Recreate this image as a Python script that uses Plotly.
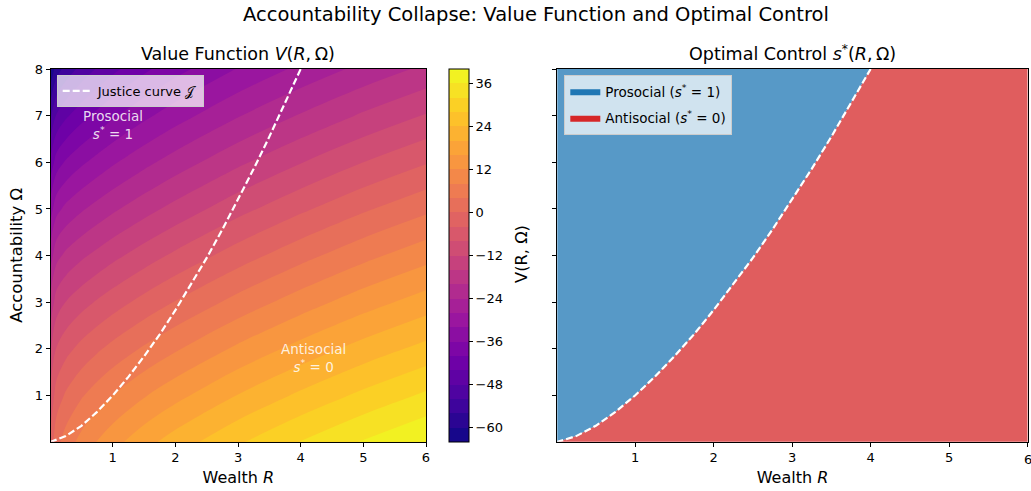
import plotly.graph_objects as go

# ---------------- data ----------------
R_GRID = [0.0, 0.1, 0.25, 0.5, 0.75, 1.0, 1.5, 2.0, 3.0, 4.0, 5.0, 6.0]
OMEGA_GRID = [0, 1, 2, 3, 4, 5, 6, 7, 8]
# value function V(R, Omega): one row per Omega, one column per R (estimated from the colours)
V_ROW_OM0 = [-3.0, 2.6, 5.8, 9.4, 12.2, 14.6, 18.6, 21.9, 27.5, 32.2, 36.4, 40.1]
V_ROW_OM1 = [-7.45, -2.2, 0.56, 3.58, 5.95, 8.05, 11.65, 14.74, 20.17, 24.82, 29.0, 32.7]
V_ROW_OM2 = [-12.8, -7.79, -5.34, -2.72, -0.64, 1.24, 4.56, 7.51, 12.82, 17.43, 21.6, 25.3]
V_ROW_OM3 = [-19.05, -14.17, -11.89, -9.51, -7.59, -5.82, -2.66, 0.21, 5.44, 10.03, 14.2, 17.9]
V_ROW_OM4 = [-26.2, -21.35, -19.1, -16.78, -14.9, -13.14, -10.02, -7.17, -1.96, 2.63, 6.8, 10.5]
V_ROW_OM5 = [-34.25, -29.33, -26.98, -24.53, -22.55, -20.73, -17.53, -14.63, -9.38, -4.78, -0.6, 3.1]
V_ROW_OM6 = [-43.2, -38.09, -35.5, -32.76, -30.56, -28.56, -25.16, -22.15, -16.82, -12.19, -8.0, -4.3]
V_ROW_OM7 = [-53.05, -47.65, -44.69, -41.47, -38.91, -36.66, -32.94, -29.75, -24.28, -19.61, -15.4, -11.7]
V_ROW_OM8 = [-63.8, -58.01, -54.54, -50.66, -47.62, -45.02, -40.86, -37.43, -31.76, -27.03, -22.8, -19.1]

JUSTICE_R = [0.0, 0.25, 0.5, 0.75, 1.0, 1.25, 1.5, 1.75, 2.0, 2.25, 2.5, 2.75, 3.0, 3.25, 3.5, 3.75, 4.0]
JUSTICE_OMEGA = [0.0, 0.13, 0.35, 0.65, 1.0, 1.4, 1.84, 2.31, 2.83, 3.38, 3.95, 4.56, 5.2, 5.86, 6.55, 7.26, 8.0]

X_TICKS = [1, 2, 3, 4, 5, 6]
Y_TICKS = [1, 2, 3, 4, 5, 6, 7, 8]
CBAR_TICKS = [-60, -48, -36, -24, -12, 0, 12, 24, 36]
LEVEL_START, LEVEL_END, LEVEL_STEP = -64, 40, 4

R_MIN, R_MAX = 0.0, 6.0
OM_MIN, OM_MAX = 0.0, 8.0
R_RANGE = [0.01, 6.0]
OM_RANGE = [0.01, 8.0]

# ---------------- layout geometry ----------------
W, H = 1031, 491
FONT = "DejaVu Sans"
def fx(px):
    return px / W
def fy(py):
    return 1 - py / H

Z = [V_ROW_OM0, V_ROW_OM1, V_ROW_OM2, V_ROW_OM3, V_ROW_OM4,
     V_ROW_OM5, V_ROW_OM6, V_ROW_OM7, V_ROW_OM8]

BLUE_FILL = "rgba(31,119,180,0.75)"
RED_FILL = "rgba(214,39,40,0.75)"

fig = go.Figure()

fig.add_trace(go.Contour(
    x=R_GRID, y=OMEGA_GRID, z=Z,
    colorscale="Plasma", zmin=LEVEL_START, zmax=LEVEL_END, zauto=False,
    autocontour=False,
    contours=dict(start=LEVEL_START, end=LEVEL_END, size=LEVEL_STEP, coloring="fill", showlines=False),
    line=dict(width=0, smoothing=1.0),
    colorbar=dict(
        x=fx(449), xanchor="left", y=fy(441.7), yanchor="bottom", xpad=0, ypad=0,
        len=(441.7 - 69) / H, lenmode="fraction", thickness=20, thicknessmode="pixels",
        outlinewidth=1, outlinecolor="black",
        tickvals=CBAR_TICKS, ticks="outside", ticklen=4, tickcolor="black",
        tickfont=dict(family=FONT, size=13, color="black"),
    ),
    showlegend=False, xaxis="x", yaxis="y", hoverinfo="skip",
))

fig.add_trace(go.Scatter(
    x=JUSTICE_R, y=JUSTICE_OMEGA, mode="lines",
    line=dict(color="white", width=2.2, dash="7px,3px"),
    name="Justice curve 𝒥", legend="legend", xaxis="x", yaxis="y",
))

# right panel regions
fig.add_trace(go.Scatter(
    x=JUSTICE_R + [R_MIN, R_MIN], y=JUSTICE_OMEGA + [OM_MAX, OM_MIN],
    mode="lines", fill="toself", fillcolor=BLUE_FILL, line=dict(width=0),
    showlegend=False, xaxis="x2", yaxis="y2", hoverinfo="skip",
))
fig.add_trace(go.Scatter(
    x=JUSTICE_R + [R_MAX, R_MAX, R_MIN], y=JUSTICE_OMEGA + [OM_MAX, OM_MIN, OM_MIN],
    mode="lines", fill="toself", fillcolor=RED_FILL, line=dict(width=0),
    showlegend=False, xaxis="x2", yaxis="y2", hoverinfo="skip",
))
fig.add_trace(go.Scatter(
    x=JUSTICE_R, y=JUSTICE_OMEGA, mode="lines",
    line=dict(color="white", width=2.2, dash="7px,3px"),
    showlegend=False, xaxis="x2", yaxis="y2", hoverinfo="skip",
))
# legend patches
fig.add_trace(go.Scatter(
    x=[None], y=[None], mode="lines", fill="toself", fillcolor="#1f77b4", line=dict(width=0, color="#1f77b4"),
    name="Prosocial (<i>s</i><sup>*</sup> = 1)", legend="legend2", legendgroup="pro",
    xaxis="x2", yaxis="y2",
))
fig.add_trace(go.Scatter(
    x=[None], y=[None], mode="lines", fill="toself", fillcolor="#d62728", line=dict(width=0, color="#d62728"),
    name="Antisocial (<i>s</i><sup>*</sup> = 0)", legend="legend2", legendgroup="anti",
    xaxis="x2", yaxis="y2",
))

axis_common = dict(
    showline=True, mirror=True, linecolor="black", linewidth=1,
    ticks="outside", ticklen=4, tickcolor="black", showgrid=False, zeroline=False,
    tickfont=dict(family=FONT, size=13, color="black"),
)

fig.update_layout(
    width=W, height=H, autosize=False,
    margin=dict(l=0, r=0, t=0, b=0, autoexpand=False),
    paper_bgcolor="white", plot_bgcolor="white",
    font=dict(family=FONT, color="black"),
    xaxis=dict(domain=[fx(50.7), fx(426)], range=R_RANGE, tickvals=X_TICKS, anchor="y",
               title=dict(text="Wealth <i>R</i>", font=dict(size=16), standoff=7), **axis_common),
    yaxis=dict(domain=[fy(441.7), fy(69)], range=OM_RANGE, tickvals=Y_TICKS, anchor="x",
               title=dict(text="Accountability Ω", font=dict(size=16.5), standoff=8), **axis_common),
    xaxis2=dict(domain=[fx(557.3), fx(1027.7)], range=R_RANGE, tickvals=X_TICKS, anchor="y2",
                title=dict(text="Wealth <i>R</i>", font=dict(size=16), standoff=7), **axis_common),
    yaxis2=dict(domain=[fy(441.7), fy(69)], range=OM_RANGE, tickvals=Y_TICKS, anchor="x2",
                showticklabels=False, **axis_common),
    legend=dict(x=fx(56.7), y=fy(75), xanchor="left", yanchor="top",
                bgcolor="rgba(255,255,255,0.72)", bordercolor="#cccccc", borderwidth=1,
                font=dict(family=FONT, size=13, color="black")),
    legend2=dict(x=fx(564.3), y=fy(75), xanchor="left", yanchor="top", tracegroupgap=6,
                 bgcolor="rgba(255,255,255,0.72)", bordercolor="#cccccc", borderwidth=1,
                 font=dict(family=FONT, size=13.5, color="black")),
)

annotations = [
    dict(text="Accountability Collapse: Value Function and Optimal Control", x=fx(536), y=fy(14),
         xanchor="center", yanchor="middle",
         xref="paper", yref="paper", showarrow=False, font=dict(size=19.5)),
    dict(text="Value Function <i>V</i>(<i>R</i>,\u2009Ω)", x=fx(238), y=fy(54),
         xanchor="center", yanchor="middle",
         xref="paper", yref="paper", showarrow=False, font=dict(size=17.5)),
    dict(text="Optimal Control <i>s</i><sup>*</sup>(<i>R</i>,\u2009Ω)", x=fx(792), y=fy(53),
         xanchor="center", yanchor="middle",
         xref="paper", yref="paper", showarrow=False, font=dict(size=17.5)),
    dict(text="V(R, Ω)", x=fx(521), y=fy(254), textangle=-90, xanchor="center", yanchor="middle",
         xref="paper", yref="paper", showarrow=False, font=dict(size=16.3)),
    dict(text="Prosocial<br><i>s</i><sup>*</sup> = 1", x=1.0, y=6.8, xref="x", yref="y",
         showarrow=False, font=dict(size=13.5, color="rgba(255,255,255,0.85)")),
    dict(text="Antisocial<br><i>s</i><sup>*</sup> = 0", x=4.2, y=1.8, xref="x", yref="y",
         showarrow=False, font=dict(size=13.5, color="rgba(255,255,255,0.85)")),
    # last tick label of the right panel sits on the page edge (clipped in the reference too)
    dict(text=str(X_TICKS[-1]), x=X_TICKS[-1], y=fy(459.5), xref="x2", yref="paper",
         xanchor="center", yanchor="middle", showarrow=False,
         font=dict(family=FONT, size=13, color="black")),
]
fig.update_layout(annotations=annotations)

fig.write_html("out.html")
